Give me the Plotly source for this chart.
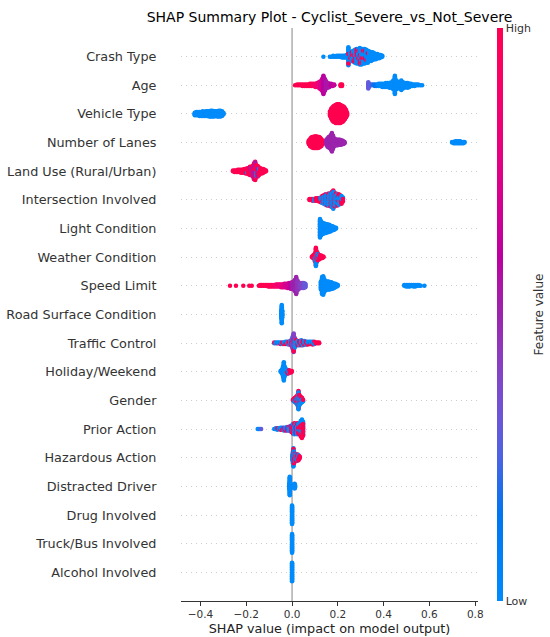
import math
import numpy as np
import plotly.graph_objects as go

# ---------------- data (top feature first) ----------------
features = ["Crash Type", "Age", "Vehicle Type", "Number of Lanes", "Land Use (Rural/Urban)",
            "Intersection Involved", "Light Condition", "Weather Condition", "Speed Limit",
            "Road Surface Condition", "Traffic Control", "Holiday/Weekend", "Gender",
            "Prior Action", "Hazardous Action", "Distracted Driver", "Drug Involved",
            "Truck/Bus Involved", "Alcohol Involved"]

# each entry: (SHAP value, number of samples at that value, feature value 0=low .. 1=high)
crash_type = [(0.137, 1, 0), (0.165, 1, 0), (0.172, 1, 0), (0.18, 2, 0), (0.188, 1, 0), (0.195, 2, 0),
              (0.203, 2, 0), (0.21, 2, 0), (0.218, 3, 0), (0.225, 3, 0), (0.232, 3, 0), (0.238, 4, 0),
              (0.246, 20, 0), (0.246, 2, 1), (0.254, 7, 0), (0.254, 1, 1), (0.261, 10, 0), (0.261, 2, 1),
              (0.268, 12, 0), (0.268, 2, 1), (0.275, 14, 0), (0.275, 2, 1), (0.282, 15, 0), (0.282, 3, 1),
              (0.289, 16, 0), (0.289, 2, 1), (0.296, 17, 0), (0.296, 3, 1), (0.303, 17, 0), (0.303, 2, 1),
              (0.31, 16, 0), (0.31, 2, 1), (0.317, 16, 0), (0.317, 2, 1), (0.324, 15, 0), (0.324, 1, 1),
              (0.331, 14, 0), (0.331, 1, 1), (0.338, 12, 0), (0.345, 11, 0), (0.352, 10, 0), (0.359, 8, 0),
              (0.366, 7, 0), (0.373, 6, 0), (0.38, 5, 0), (0.387, 4, 0), (0.394, 2, 0)]
age = [(0.013, 1, 1), (0.022, 2, 1), (0.03, 2, 1), (0.038, 2, 1), (0.046, 3, 1), (0.054, 3, 1), (0.062, 3, 1),
       (0.07, 3, 1), (0.078, 4, 1), (0.086, 4, 1), (0.094, 4, 0.9), (0.102, 5, 0.9), (0.11, 6, 0.85),
       (0.117, 8, 0.8), (0.124, 11, 0.75), (0.131, 16, 0.7), (0.137, 24, 0.6), (0.143, 16, 0.58),
       (0.149, 10, 0.55), (0.156, 7, 0.55), (0.163, 5, 0.55), (0.17, 4, 0.6), (0.177, 3, 0.6), (0.184, 2, 0.65),
       (0.212, 3, 1), (0.218, 3, 1),
       (0.333, 9, 0.3), (0.338, 3, 0.3), (0.346, 2, 0.25), (0.354, 2, 0.2), (0.362, 3, 0.15), (0.37, 3, 0.1),
       (0.378, 4, 0), (0.386, 4, 0), (0.394, 5, 0), (0.402, 5, 0), (0.41, 6, 0), (0.418, 6, 0), (0.426, 7, 0),
       (0.434, 8, 0), (0.442, 12, 0), (0.449, 24, 0), (0.456, 12, 0), (0.463, 8, 0), (0.47, 9, 0),
       (0.477, 13, 0), (0.484, 9, 0), (0.491, 7, 0), (0.498, 6, 0), (0.505, 7, 0), (0.512, 5, 0),
       (0.519, 4, 0), (0.527, 3, 0), (0.535, 3, 0), (0.543, 2, 0), (0.551, 2, 0), (0.56, 1, 0), (0.568, 1, 0)]
vehicle_type = [(-0.425, 5, 0), (-0.418, 6, 0), (-0.411, 6, 0), (-0.404, 7, 0), (-0.397, 7, 0), (-0.39, 8, 0),
                (-0.383, 7, 0), (-0.376, 8, 0), (-0.369, 8, 0), (-0.362, 9, 0), (-0.355, 10, 0), (-0.348, 10, 0),
                (-0.341, 9, 0), (-0.334, 8, 0), (-0.327, 9, 0), (-0.32, 10, 0), (-0.313, 10, 0), (-0.306, 8, 0),
                (-0.3, 4, 0),
                (0.166, 8, 1), (0.171, 16, 1), (0.176, 21, 1), (0.181, 25, 1), (0.186, 27, 1),
                (0.191, 29, 1), (0.196, 30, 1), (0.201, 30, 1), (0.206, 30, 1), (0.211, 29, 1), (0.216, 27, 1),
                (0.221, 25, 1), (0.226, 22, 1), (0.231, 18, 1), (0.236, 12, 1), (0.24, 5, 1)]
number_of_lanes = [(0.073, 6, 1), (0.078, 11, 1), (0.083, 14, 1), (0.088, 16, 1), (0.093, 17, 1), (0.098, 18, 1),
                   (0.103, 18, 1), (0.108, 18, 1), (0.113, 17, 1), (0.118, 16, 1), (0.123, 14, 1), (0.128, 11, 1),
                   (0.133, 6, 1),
                   (0.15, 8, 0.5), (0.155, 13, 0.5), (0.16, 16, 0.5), (0.165, 18, 0.5), (0.17, 22, 0.5),
                   (0.174, 28, 0.5), (0.179, 20, 0.5), (0.184, 12, 0.5), (0.189, 10, 0.5), (0.194, 9, 0.5),
                   (0.199, 9, 0.5), (0.204, 8, 0.5), (0.209, 8, 0.5), (0.214, 7, 0.5), (0.219, 6, 0.5),
                   (0.224, 5, 0.5), (0.229, 3, 0.5),
                   (0.699, 2, 0), (0.706, 3, 0), (0.713, 4, 0), (0.72, 4, 0), (0.727, 4, 0), (0.734, 4, 0),
                   (0.741, 3, 0), (0.748, 3, 0), (0.753, 2, 0)]
land_use = [(-0.258, 2, 1), (-0.251, 3, 1), (-0.244, 3, 1), (-0.237, 4, 1), (-0.23, 4, 1), (-0.223, 5, 1),
            (-0.216, 5, 1), (-0.209, 6, 1), (-0.202, 7, 1), (-0.196, 7, 1), (-0.196, 1, 0), (-0.19, 9, 1),
            (-0.184, 10, 1), (-0.184, 2, 0.55), (-0.178, 12, 1), (-0.172, 12, 1), (-0.172, 3, 0.55),
            (-0.166, 18, 1), (-0.166, 5, 0.55), (-0.161, 20, 1), (-0.161, 6, 0.55), (-0.156, 14, 1),
            (-0.156, 2, 0), (-0.15, 12, 1), (-0.15, 3, 0.55), (-0.144, 10, 1), (-0.144, 1, 0), (-0.138, 8, 1),
            (-0.132, 7, 1), (-0.126, 6, 1), (-0.12, 4, 1), (-0.114, 2, 1)]
intersection_involved = [(0.076, 2, 1), (0.083, 2, 1), (0.09, 3, 1), (0.097, 3, 0), (0.104, 4, 1), (0.111, 4, 1),
                         (0.118, 5, 1), (0.125, 5, 1), (0.125, 2, 0), (0.132, 7, 1), (0.132, 3, 0),
                         (0.139, 8, 1), (0.139, 4, 0), (0.146, 9, 1), (0.146, 5, 0), (0.153, 10, 1),
                         (0.153, 5, 0), (0.16, 10, 1), (0.16, 6, 0), (0.167, 11, 1), (0.167, 6, 0),
                         (0.174, 14, 1), (0.174, 6, 0), (0.18, 16, 1), (0.18, 8, 0), (0.186, 11, 1),
                         (0.186, 6, 0), (0.192, 10, 1), (0.192, 6, 0), (0.198, 9, 1), (0.198, 6, 0),
                         (0.204, 8, 1), (0.204, 6, 0), (0.21, 7, 1), (0.21, 5, 0), (0.216, 6, 1), (0.216, 5, 0),
                         (0.222, 4, 0), (0.222, 2, 1)]
light_condition = [(0.122, 26, 0), (0.127, 20, 0), (0.132, 16, 0), (0.137, 15, 0), (0.142, 14, 0), (0.147, 13, 0),
                   (0.152, 12, 0), (0.157, 11, 0), (0.162, 10, 0), (0.167, 9, 0), (0.172, 7, 0), (0.177, 6, 0),
                   (0.182, 5, 0), (0.187, 3, 0), (0.192, 2, 0)]
weather_condition = [(0.087, 2, 1), (0.092, 4, 1), (0.096, 6, 1), (0.1, 9, 1), (0.1, 2, 0), (0.104, 18, 1),
                     (0.104, 6, 0), (0.108, 10, 1), (0.108, 4, 0), (0.112, 8, 1), (0.112, 2, 0), (0.117, 6, 1),
                     (0.117, 1, 0), (0.122, 5, 1), (0.127, 4, 1), (0.132, 3, 1), (0.137, 2, 1)]
speed_limit = [(-0.271, 1, 1), (-0.245, 1, 1), (-0.213, 1, 1), (-0.187, 1, 1), (-0.176, 1, 1),
               (-0.145, 1, 1), (-0.139, 2, 1), (-0.132, 2, 1), (-0.125, 2, 1), (-0.118, 2, 1), (-0.111, 2, 1),
               (-0.104, 3, 1), (-0.097, 3, 1), (-0.09, 3, 0.95), (-0.083, 3, 0.95), (-0.076, 3, 0.9),
               (-0.069, 4, 0.9), (-0.062, 4, 0.85), (-0.055, 4, 0.85), (-0.048, 5, 0.8), (-0.041, 5, 0.8),
               (-0.034, 6, 0.75), (-0.027, 6, 0.7), (-0.02, 7, 0.7), (-0.013, 8, 0.65), (-0.006, 9, 0.6),
               (0.0, 10, 0.55), (0.006, 12, 0.5), (0.012, 16, 0.5), (0.018, 24, 0.5), (0.024, 14, 0.45),
               (0.03, 9, 0.45), (0.037, 8, 0.4), (0.044, 8, 0.4), (0.051, 8, 0.35), (0.058, 6, 0.3),
               (0.126, 12, 0), (0.131, 24, 0), (0.136, 26, 0), (0.141, 18, 0), (0.147, 13, 0), (0.153, 12, 0),
               (0.159, 12, 0), (0.165, 11, 0), (0.171, 10, 0), (0.177, 9, 0), (0.183, 7, 0), (0.189, 6, 0),
               (0.195, 4, 0), (0.2, 2, 0),
               (0.49, 2, 0), (0.498, 3, 0), (0.506, 3, 0), (0.514, 3, 0), (0.522, 2, 0), (0.53, 3, 0),
               (0.538, 3, 0), (0.546, 2, 0), (0.554, 2, 0), (0.562, 1, 0), (0.578, 1, 0)]
road_surface_condition = [(-0.047, 10, 0), (-0.045, 24, 0), (-0.043, 10, 0)]
traffic_control = [(-0.078, 1, 0), (-0.078, 1, 1), (-0.071, 2, 0), (-0.064, 1, 1), (-0.064, 1, 0), (-0.057, 2, 0),
                   (-0.05, 2, 1), (-0.05, 1, 0), (-0.043, 2, 0), (-0.043, 1, 1), (-0.036, 2, 1), (-0.036, 1, 0),
                   (-0.029, 3, 0), (-0.029, 1, 1), (-0.022, 2, 1), (-0.022, 2, 0), (-0.015, 3, 0),
                   (-0.015, 2, 1), (-0.008, 3, 0.4), (-0.008, 3, 0), (-0.002, 6, 0.4), (-0.002, 4, 1),
                   (0.003, 14, 0.4), (0.003, 4, 0), (0.007, 22, 0.4), (0.007, 4, 1), (0.012, 10, 0.4),
                   (0.012, 4, 0), (0.018, 5, 1), (0.018, 3, 0), (0.025, 4, 1), (0.025, 3, 0), (0.032, 4, 0),
                   (0.032, 3, 1), (0.04, 4, 1), (0.04, 4, 0), (0.047, 4, 0), (0.047, 3, 1), (0.054, 3, 1),
                   (0.054, 3, 0), (0.061, 3, 0), (0.061, 2, 1), (0.068, 3, 1), (0.068, 2, 0), (0.075, 2, 1),
                   (0.075, 2, 0), (0.082, 2, 1), (0.082, 2, 0), (0.09, 3, 1), (0.09, 2, 0), (0.097, 3, 1),
                   (0.097, 1, 0), (0.104, 2, 1), (0.111, 2, 1), (0.118, 2, 1)]
holiday_weekend = [(-0.05, 2, 0), (-0.046, 4, 0), (-0.042, 8, 0), (-0.039, 14, 0), (-0.036, 24, 0), (-0.033, 14, 0),
                   (-0.029, 8, 0), (-0.025, 6, 0), (-0.021, 4, 0), (-0.021, 1, 1), (-0.017, 3, 1), (-0.017, 2, 0),
                   (-0.013, 3, 1), (-0.013, 1, 0), (-0.009, 3, 1), (-0.005, 3, 1), (-0.001, 2, 1)]
gender = [(0.004, 2, 1), (0.008, 3, 1), (0.008, 1, 0), (0.012, 4, 1), (0.012, 2, 0), (0.016, 6, 1), (0.016, 2, 0),
          (0.02, 7, 1), (0.02, 3, 0), (0.024, 10, 1), (0.024, 4, 0), (0.028, 16, 1), (0.028, 8, 0),
          (0.032, 10, 1), (0.032, 4, 0), (0.036, 7, 1), (0.036, 3, 0), (0.04, 5, 1), (0.04, 3, 0),
          (0.044, 4, 1), (0.044, 2, 0), (0.048, 2, 0), (0.048, 1, 1)]
prior_action = [(-0.15, 1, 0), (-0.145, 1, 0), (-0.14, 1, 0), (-0.135, 1, 0.3),
                (-0.078, 1, 0), (-0.071, 2, 0), (-0.064, 2, 0), (-0.064, 1, 1), (-0.057, 2, 0), (-0.05, 2, 1),
                (-0.05, 2, 0), (-0.043, 3, 0), (-0.043, 1, 1), (-0.036, 3, 0), (-0.036, 2, 0.5), (-0.029, 3, 1),
                (-0.029, 2, 0), (-0.022, 4, 0), (-0.022, 2, 0.5), (-0.015, 4, 1), (-0.015, 2, 0),
                (-0.008, 5, 0.5), (-0.008, 3, 0), (-0.002, 6, 0.5), (-0.002, 4, 1), (0.004, 8, 0), (0.004, 6, 1),
                (0.01, 9, 1), (0.01, 7, 0), (0.016, 8, 0), (0.016, 6, 0.5), (0.022, 9, 1), (0.022, 7, 0),
                (0.028, 8, 0), (0.028, 6, 1), (0.033, 9, 0), (0.033, 7, 1), (0.038, 12, 0), (0.038, 10, 1),
                (0.043, 14, 0), (0.043, 12, 1), (0.048, 12, 0), (0.048, 8, 1)]
hazardous_action = [(0.002, 8, 0), (0.004, 14, 0), (0.004, 2, 1), (0.006, 20, 0), (0.006, 4, 1), (0.008, 12, 0),
                    (0.008, 4, 1), (0.012, 7, 1), (0.012, 3, 0), (0.016, 6, 1), (0.016, 3, 0), (0.02, 6, 1),
                    (0.02, 3, 0), (0.024, 6, 1), (0.024, 2, 0), (0.028, 5, 1), (0.028, 2, 0), (0.032, 4, 1),
                    (0.034, 2, 1)]
distracted_driver = [(-0.011, 10, 0), (-0.01, 28, 0), (-0.009, 10, 0), (0.004, 3, 0), (0.008, 6, 0),
                     (0.011, 8, 0), (0.013, 5, 0)]
drug_involved = [(0.0, 30, 0)]
truck_bus_involved = [(0.0, 30, 0)]
alcohol_involved = [(0.0, 30, 0)]

feature_rows = [crash_type, age, vehicle_type, number_of_lanes, land_use, intersection_involved,
                light_condition, weather_condition, speed_limit, road_surface_condition, traffic_control,
                holiday_weekend, gender, prior_action, hazardous_action, distracted_driver, drug_involved,
                truck_bus_involved, alcohol_involved]

x_tick_vals = [-0.4, -0.2, 0.0, 0.2, 0.4, 0.6, 0.8]
x_tick_text = ["\u22120.4", "\u22120.2", "0.0", "0.2", "0.4", "0.6", "0.8"]


# ---------------- SHAP red_blue colormap (LCH interpolation) ----------------
def lch_to_hex(L, C, h):
    a, b = C * math.cos(h), C * math.sin(h)
    fy = (L + 16) / 116
    fx, fz = fy + a / 500, fy - b / 200

    def finv(t):
        return t ** 3 if t ** 3 > 0.008856 else (t - 16 / 116) / 7.787
    X, Y, Z = 0.95047 * finv(fx), finv(fy), 1.08883 * finv(fz)
    rgb = [3.2406 * X - 1.5372 * Y - 0.4986 * Z,
           -0.9689 * X + 1.8758 * Y + 0.0415 * Z,
           0.0557 * X - 0.2040 * Y + 1.0570 * Z]
    out = []
    for c in rgb:
        c = 12.92 * c if c <= 0.0031308 else 1.055 * (max(c, 0) ** (1 / 2.4)) - 0.055
        out.append(int(round(min(max(c, 0), 1) * 255)))
    return "#%02x%02x%02x" % tuple(out)


blue_lch = (54.0, 70.0, 4.6588)
red_lch = (54.0, 90.0, 0.35470565 + 2 * math.pi)
l_mid = 40.0
colorscale = []
nst = 21
for i in range(nst):
    t = i / (nst - 1)
    L = blue_lch[0] + (l_mid - blue_lch[0]) * (t / 0.5) if t <= 0.5 else l_mid + (red_lch[0] - l_mid) * ((t - 0.5) / 0.5)
    C = blue_lch[1] + (red_lch[1] - blue_lch[1]) * t
    H = blue_lch[2] + (red_lch[2] - blue_lch[2]) * t
    colorscale.append([t, lch_to_hex(L, C, H)])


# ---------------- beeswarm layout ----------------
def swarm(entries, row_height=0.4):
    xs, cs, key = [], [], []
    for k, (v, n, c) in enumerate(entries):
        for j in range(n):
            xs.append(v)
            cs.append(c)
            key.append((v, (j + 0.5) / n, k))
    order = sorted(range(len(xs)), key=lambda i: key[i])
    ys = np.zeros(len(xs))
    layer, last = 0, None
    for i in order:
        if xs[i] != last:
            layer = 0
        ys[i] = math.ceil(layer / 2) * ((layer % 2) * 2 - 1)
        layer += 1
        last = xs[i]
    ys *= 0.9 * (row_height / np.max(ys + 1))
    return np.array(xs), ys, np.array(cs)


N = len(features)
all_x, all_y, all_c = [], [], []
for i, entries in enumerate(feature_rows):
    pos = N - 1 - i
    x, y, c = swarm(entries)
    all_x.append(x)
    all_y.append(y + pos)
    all_c.append(c)
all_x = np.concatenate(all_x)
all_y = np.concatenate(all_y)
all_c = np.concatenate(all_c)

ML, MR, MT, MB = 181, 72, 28, 36

fig = go.Figure()
fig.add_trace(go.Scatter(
    x=all_x, y=all_y, mode="markers",
    marker=dict(size=4.5, color=all_c, colorscale=colorscale, cmin=0, cmax=1, line=dict(width=0),
                showscale=True,
                colorbar=dict(x=(497 - ML) / (550 - ML - MR), xanchor="left", y=0.5, yanchor="middle",
                              len=1.0, lenmode="fraction",
                              thickness=6, thicknessmode="pixels", outlinewidth=0, xpad=0, ypad=0,
                              tickvals=[0, 1], ticktext=["Low", "High"], ticks="",
                              tickfont=dict(size=11, color="#333333", family="DejaVu Sans"))),
    hoverinfo="skip", showlegend=False))

fig.add_shape(type="line", x0=0, x1=0, xref="x", y0=0, y1=1, yref="paper",
              line=dict(color="#999999", width=1.2), layer="below")

fig.add_annotation(text="Feature value", x=(538 - ML) / (550 - ML - MR), xref="paper", y=0.5, yref="paper",
                   showarrow=False, textangle=-90, xanchor="center", yanchor="middle",
                   font=dict(size=12, color="#333333", family="DejaVu Sans"))

fig.update_layout(
    width=550, height=637,
    margin=dict(l=ML, r=MR, t=MT, b=MB, autoexpand=False),
    paper_bgcolor="white", plot_bgcolor="white",
    font=dict(family="DejaVu Sans", color="#333333"),
    title=dict(text="SHAP Summary Plot - Cyclist_Severe_vs_Not_Severe", x=(ML + 550 - MR) / 2 / 550,
               xanchor="center", y=1 - 17 / 637, yanchor="middle",
               font=dict(size=14, color="#000000", family="DejaVu Sans")),
    xaxis=dict(range=[-0.485, 0.812], tickvals=x_tick_vals, ticktext=x_tick_text, showgrid=False, zeroline=False,
               showline=True, linecolor="#333333", linewidth=1, ticks="outside", ticklen=3.5, tickwidth=1,
               tickcolor="#333333", tickfont=dict(size=10.5, color="#333333"), automargin=False,
               title=dict(text="SHAP value (impact on model output)", font=dict(size=12.8, color="#222222"),
                          standoff=4)),
    yaxis=dict(range=[-1, N], tickvals=list(range(N)), ticktext=list(reversed(features)),
               showgrid=True, gridcolor="#cccccc", gridwidth=0.6, griddash="1px,4px", zeroline=False,
               showline=False, ticks="outside", ticklen=21, tickcolor="rgba(0,0,0,0)", automargin=False,
               tickfont=dict(size=12.8, color="#333333")),
)

fig.write_html("out.html", config={"displayModeBar": False},
               post_script="document.body.style.margin='0';document.body.style.padding='0';")
